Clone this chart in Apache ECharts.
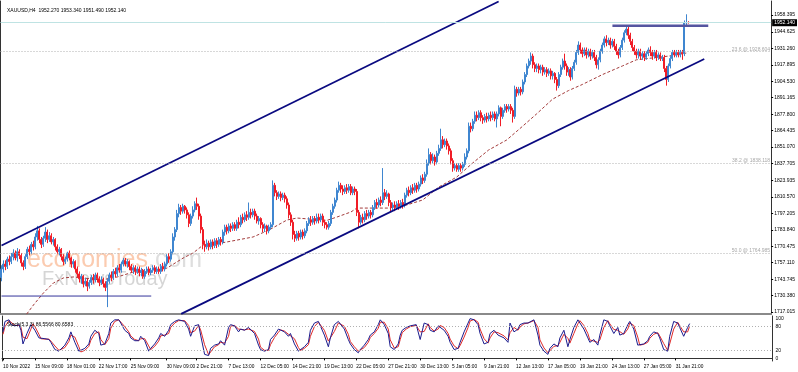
<!DOCTYPE html>
<html><head><meta charset="utf-8">
<script src="https://cdn.jsdelivr.net/npm/echarts@6/dist/echarts.min.js"></script>
<style>html,body{margin:0;padding:0;background:#fff}#c{width:798px;height:372px}</style>
</head><body><div id="c"></div>
<script>
const chartTitle = 'XAUUSD,H4  1952.270 1953.340 1951.490 1952.140';
const stochTitle = 'Stoch(5,3,3) 86.5566 80.6583';
const xTickLabels = ['10 Nov 2022','15 Nov 09:00','18 Nov 01:00','22 Nov 17:00','25 Nov 09:00','30 Nov 09:00','2 Dec 21:00','7 Dec 13:00','12 Dec 05:00','14 Dec 21:00','19 Dec 13:00','22 Dec 05:00','27 Dec 21:00','30 Dec 13:00','5 Jan 05:00','9 Jan 21:00','12 Jan 13:00','17 Jan 05:00','19 Jan 21:00','24 Jan 13:00','27 Jan 05:00','31 Jan 21:00'];
const priceTicks = [1958.395,1944.625,1931.260,1917.895,1904.530,1891.165,1877.800,1864.435,1851.070,1837.705,1823.935,1810.570,1797.205,1783.840,1770.475,1757.110,1743.745,1730.380,1717.015];
const stochTicks = [0,20,80,100];
const stochLevels = [80,20];
const fibLevels = [[1928.604,'23.6 @ 1928.604'],[1838.118,'38.2 @ 1838.118'],[1764.985,'50.0 @ 1764.985']];
const bidPrice = 1952.14;
const bidLabel = '1952.140';
const upperChannel = [[0,1771.1],[249,1969.4]];
const lowerChannel = [[90,1715.5],[352,1922.7]];
const resistanceLine = [[306,1949.7],[354,1949.7]];
const supportLine = [[0,1730.0],[75,1730.0]];
// [open, close, low, high]
const candles = [
[1745,1752,1742,1755],[1752,1756,1749,1759],[1756,1754,1751,1759],[1754,1760,1752,1762],[1760,1758,1755,1763],[1758,1762,1756,1765],[1762,1765,1759,1768],[1765,1761,1759,1767],
[1761,1766,1758,1769],[1766,1763,1760,1768],[1763,1757,1754,1765],[1757,1754,1751,1759],[1754,1762,1752,1764],[1762,1768,1760,1770],[1768,1766,1763,1771],[1766,1772,1764,1774],
[1772,1770,1767,1775],[1770,1778,1768,1781],[1778,1783,1775,1787],[1783,1776,1773,1785],[1776,1772,1769,1778],[1772,1777,1770,1779],[1777,1782,1774,1786],[1782,1776,1773,1784],
[1776,1779,1774,1782],[1779,1774,1772,1781],[1774,1776,1771,1778],[1776,1770,1767,1777],[1770,1766,1764,1772],[1766,1768,1763,1770],[1768,1762,1759,1769],[1762,1758,1755,1764],
[1758,1760,1756,1762],[1760,1765,1758,1766],[1765,1761,1759,1767],[1761,1756,1753,1762],[1756,1758,1753,1760],[1758,1752,1749,1759],[1752,1748,1745,1754],[1748,1744,1741,1750],
[1744,1746,1740,1748],[1746,1740,1737,1747],[1740,1742,1738,1745],[1742,1738,1734,1744],[1738,1741,1736,1743],[1741,1745,1739,1747],[1745,1743,1740,1748],[1743,1747,1741,1749],
[1747,1744,1741,1749],[1744,1741,1738,1746],[1741,1743,1739,1746],[1743,1740,1737,1745],[1740,1737,1734,1742],[1737,1742,1721,1744],[1742,1747,1740,1749],[1747,1745,1742,1750],
[1745,1750,1743,1752],[1750,1748,1745,1753],[1748,1753,1746,1755],[1753,1751,1749,1756],[1751,1756,1749,1758],[1756,1759,1754,1761],[1759,1756,1754,1761],[1756,1758,1753,1760],
[1758,1754,1751,1759],[1754,1751,1749,1756],[1751,1753,1748,1755],[1753,1750,1747,1755],[1750,1752,1748,1754],[1752,1749,1746,1754],[1749,1751,1746,1753],[1751,1746,1744,1752],
[1746,1750,1744,1752],[1750,1752,1748,1754],[1752,1749,1747,1754],[1749,1751,1747,1753],[1751,1753,1749,1755],[1753,1750,1748,1755],[1750,1752,1748,1754],[1752,1750,1748,1754],
[1750,1754,1748,1756],[1754,1752,1750,1757],[1752,1756,1750,1758],[1756,1762,1754,1764],[1762,1760,1757,1765],[1760,1766,1758,1768],[1766,1778,1764,1781],[1778,1784,1775,1786],
[1784,1797,1782,1800],[1797,1802,1794,1805],[1802,1799,1796,1804],[1799,1803,1797,1805],[1803,1800,1797,1804],[1800,1796,1793,1802],[1796,1789,1786,1798],[1789,1795,1787,1797],
[1795,1800,1793,1803],[1800,1805,1798,1807],[1805,1803,1800,1810],[1803,1795,1792,1805],[1795,1784,1781,1797],[1784,1772,1768,1786],[1772,1770,1766,1775],[1770,1773,1768,1776],
[1773,1770,1767,1775],[1770,1774,1768,1776],[1774,1771,1768,1776],[1771,1775,1769,1777],[1775,1772,1769,1777],[1772,1776,1770,1778],[1776,1774,1771,1778],[1774,1782,1772,1784],
[1782,1786,1779,1788],[1786,1783,1780,1788],[1783,1787,1781,1789],[1787,1785,1782,1789],[1785,1788,1783,1790],[1788,1785,1783,1790],[1785,1790,1783,1792],[1790,1788,1785,1794],
[1788,1794,1786,1796],[1794,1792,1789,1797],[1792,1796,1790,1798],[1796,1794,1791,1799],[1794,1798,1792,1806],[1798,1796,1793,1801],[1796,1799,1794,1801],[1799,1795,1792,1801],
[1795,1791,1789,1797],[1791,1793,1788,1795],[1793,1788,1785,1794],[1788,1785,1782,1790],[1785,1787,1782,1789],[1787,1783,1780,1788],[1783,1786,1781,1788],[1786,1788,1784,1790],
[1788,1820,1786,1824],[1820,1814,1811,1822],[1814,1811,1808,1816],[1811,1813,1809,1815],[1813,1810,1807,1815],[1810,1812,1808,1814],[1812,1809,1806,1814],[1809,1804,1801,1811],
[1804,1796,1793,1806],[1796,1790,1787,1798],[1790,1780,1776,1792],[1780,1777,1774,1783],[1777,1781,1775,1783],[1781,1778,1775,1783],[1778,1782,1776,1784],[1782,1779,1776,1784],
[1779,1783,1777,1785],[1783,1789,1781,1791],[1789,1792,1787,1794],[1792,1790,1787,1795],[1790,1793,1788,1795],[1793,1791,1788,1795],[1791,1794,1789,1797],[1794,1792,1789,1797],
[1792,1795,1790,1797],[1795,1790,1787,1797],[1790,1788,1785,1792],[1788,1786,1784,1790],[1786,1789,1784,1791],[1789,1798,1787,1800],[1798,1803,1796,1805],[1803,1808,1801,1810],
[1808,1816,1806,1818],[1816,1820,1814,1823],[1820,1817,1814,1822],[1817,1815,1812,1820],[1815,1818,1813,1820],[1818,1816,1813,1821],[1816,1819,1814,1821],[1819,1814,1812,1821],
[1814,1817,1812,1819],[1817,1815,1812,1819],[1815,1798,1795,1817],[1798,1790,1785,1800],[1790,1794,1788,1796],[1794,1792,1789,1797],[1792,1797,1790,1799],[1797,1795,1792,1800],
[1795,1798,1793,1800],[1798,1796,1793,1800],[1796,1802,1794,1804],[1802,1806,1800,1808],[1806,1804,1801,1809],[1804,1808,1802,1810],[1808,1806,1803,1811],[1806,1814,1804,1834],
[1814,1811,1808,1817],[1811,1813,1809,1816],[1813,1806,1803,1814],[1806,1802,1799,1808],[1802,1804,1800,1806],[1804,1802,1799,1807],[1802,1805,1800,1807],[1805,1803,1800,1808],
[1803,1806,1801,1808],[1806,1804,1801,1809],[1804,1812,1802,1814],[1812,1816,1810,1818],[1816,1814,1811,1819],[1814,1818,1812,1820],[1818,1816,1813,1821],[1816,1820,1814,1822],
[1820,1817,1814,1822],[1817,1821,1815,1823],[1821,1826,1819,1828],[1826,1824,1821,1829],[1824,1829,1822,1831],[1829,1838,1827,1841],[1838,1845,1836,1850],[1845,1840,1837,1847],
[1840,1843,1838,1846],[1843,1839,1836,1845],[1839,1846,1837,1848],[1846,1850,1844,1853],[1850,1857,1848,1866],[1857,1853,1850,1860],[1853,1856,1851,1858],[1856,1852,1849,1858],
[1852,1848,1845,1854],[1848,1840,1837,1850],[1840,1834,1831,1842],[1834,1836,1832,1838],[1836,1833,1831,1838],[1833,1836,1831,1838],[1836,1834,1831,1838],[1834,1837,1832,1839],
[1837,1843,1835,1846],[1843,1848,1841,1850],[1848,1868,1846,1871],[1868,1866,1863,1871],[1866,1872,1864,1874],[1872,1877,1870,1880],[1877,1875,1872,1880],[1875,1879,1873,1881],
[1879,1875,1872,1881],[1875,1873,1870,1877],[1873,1876,1871,1878],[1876,1874,1871,1879],[1874,1877,1872,1879],[1877,1875,1872,1880],[1875,1878,1873,1880],[1878,1874,1872,1880],
[1874,1878,1867,1880],[1878,1883,1876,1885],[1883,1876,1868,1884],[1876,1881,1874,1883],[1881,1884,1879,1886],[1884,1882,1879,1886],[1882,1884,1880,1886],[1884,1881,1878,1886],
[1881,1876,1871,1883],[1876,1898,1874,1901],[1898,1895,1892,1900],[1895,1898,1893,1900],[1898,1896,1893,1900],[1896,1904,1894,1906],[1904,1910,1902,1912],[1910,1917,1908,1919],
[1917,1921,1915,1923],[1921,1925,1918,1928],[1925,1918,1915,1927],[1918,1915,1912,1920],[1915,1917,1912,1919],[1917,1914,1911,1919],[1914,1916,1911,1918],[1916,1912,1909,1918],
[1912,1914,1910,1916],[1914,1911,1908,1916],[1911,1913,1909,1915],[1913,1909,1906,1915],[1909,1911,1906,1913],[1911,1906,1903,1912],[1906,1901,1897,1908],[1901,1910,1899,1912],
[1910,1916,1908,1918],[1916,1921,1914,1923],[1921,1917,1914,1927],[1917,1912,1909,1919],[1912,1914,1909,1916],[1914,1908,1905,1916],[1908,1915,1906,1917],[1915,1920,1913,1922],
[1920,1928,1918,1930],[1928,1934,1926,1937],[1934,1930,1927,1936],[1930,1927,1924,1932],[1927,1930,1925,1932],[1930,1926,1923,1932],[1926,1929,1924,1931],[1929,1925,1922,1931],
[1925,1928,1923,1930],[1928,1924,1921,1930],[1924,1918,1915,1926],[1918,1922,1914,1924],[1922,1929,1920,1931],[1929,1934,1927,1936],[1934,1939,1932,1941],[1939,1936,1933,1942],
[1936,1938,1934,1940],[1938,1934,1931,1940],[1934,1937,1932,1939],[1937,1933,1930,1939],[1933,1929,1926,1935],[1929,1926,1923,1931],[1926,1932,1924,1934],[1932,1938,1930,1940],
[1938,1944,1936,1946],[1944,1947,1942,1950],[1947,1942,1939,1949],[1942,1937,1934,1944],[1937,1932,1929,1939],[1932,1929,1926,1934],[1929,1926,1923,1931],[1926,1929,1923,1931],
[1929,1925,1922,1931],[1925,1927,1922,1929],[1927,1924,1921,1929],[1924,1927,1922,1929],[1927,1930,1925,1932],[1930,1928,1925,1933],[1928,1925,1922,1930],[1925,1928,1923,1930],
[1928,1924,1921,1930],[1924,1926,1922,1928],[1926,1923,1921,1928],[1923,1924,1921,1926],[1924,1915,1912,1926],[1915,1906,1901,1917],[1906,1917,1904,1919],[1917,1923,1915,1925],
[1923,1928,1921,1930],[1928,1926,1924,1930],[1926,1928,1924,1930],[1928,1926,1924,1930],[1926,1928,1924,1930],[1928,1927,1922,1930],[1927,1952,1925,1954],[1952,1952.3,1949,1959],
[1952.27,1952.14,1951.49,1953.34]
];
const maLine = [[0,1690],[8,1706],[12,1714],[16,1722.7],[21,1732.5],[26,1740.6],[31,1744.7],[36,1745.5],[41,1744.7],[50,1743],[58,1745.5],[66,1749.5],[75,1749.5],[83,1752.8],[91,1760.9],[96,1765],[101,1771.5],[110,1773.1],[118,1775.5],[126,1778],[134,1783.7],[143,1791.8],[148,1793.4],[155,1792.5],[163,1791.5],[168,1794.2],[175,1798.3],[178,1801.5],[186,1801.5],[194,1801.5],[203,1804],[211,1808.1],[219,1818.6],[228,1826.7],[236,1838.1],[244,1848.7],[253,1856.8],[261,1868],[268,1878],[276,1890],[284,1897],[291,1902],[301,1910],[311,1917],[318,1922],[326,1923.5],[334,1925],[343,1927.5]];
const stochMain = [[0,66],[1,92],[3,96],[4,84],[6,81],[8,84],[9,70],[10,36],[12,62],[14,84],[15,88],[16,70],[18,51],[19,47],[21,49],[23,47],[24,40],[26,22],[28,18],[29,22],[31,33],[33,51],[34,66],[36,40],[38,18],[39,14],[41,25],[43,36],[44,55],[46,70],[48,62],[49,33],[51,36],[53,62],[54,88],[56,96],[58,96],[59,88],[61,70],[63,62],[64,51],[66,44],[68,44],[69,55],[71,44],[73,18],[74,25],[76,36],[78,51],[79,62],[81,55],[83,70],[84,84],[86,92],[88,96],[89,96],[91,92],[93,73],[94,55],[96,81],[98,84],[99,58],[101,10],[103,7],[104,25],[106,33],[108,36],[109,44],[111,33],[113,77],[114,84],[116,81],[118,66],[119,73],[121,70],[123,77],[124,73],[126,62],[128,33],[129,22],[131,18],[133,22],[134,47],[136,58],[138,73],[139,70],[141,66],[143,55],[144,62],[146,36],[148,18],[149,22],[151,29],[153,40],[154,70],[156,88],[158,92],[159,81],[161,58],[163,29],[164,51],[166,84],[168,92],[169,88],[171,73],[173,47],[174,36],[176,22],[178,14],[179,22],[181,33],[183,47],[184,58],[186,66],[188,84],[189,96],[191,84],[193,62],[194,29],[196,22],[198,36],[199,58],[200,70],[202,77],[204,81],[207,84],[209,47],[211,88],[213,84],[214,70],[216,66],[218,81],[219,84],[221,70],[223,55],[224,40],[226,22],[228,25],[229,40],[231,66],[233,88],[234,99],[236,96],[238,84],[239,62],[241,36],[243,40],[244,62],[246,70],[248,58],[249,62],[251,51],[253,40],[254,88],[256,66],[258,73],[259,84],[261,88],[263,88],[264,92],[266,96],[268,58],[269,33],[271,18],[273,10],[274,25],[276,36],[278,29],[279,51],[281,70],[283,29],[284,47],[286,77],[288,96],[289,92],[291,73],[293,51],[294,40],[296,47],[298,33],[299,58],[301,96],[303,92],[304,81],[306,62],[308,77],[309,58],[311,62],[313,84],[314,92],[316,73],[318,33],[319,33],[321,36],[323,44],[324,55],[326,66],[328,62],[329,51],[331,22],[333,18],[334,55],[336,92],[338,88],[339,77],[341,55],[343,77],[344,86.56]];
const stochSignal = [[0,60],[1,79],[3,94],[4,90],[6,82],[8,82],[9,77],[10,53],[12,49],[14,73],[15,86],[16,79],[18,60],[19,49],[21,48],[23,48],[24,43],[26,31],[28,20],[29,20],[31,27],[33,42],[34,58],[36,53],[38,29],[39,16],[41,20],[43,30],[44,45],[46,62],[48,66],[49,47],[51,34],[53,49],[54,75],[56,92],[58,96],[59,92],[61,79],[63,66],[64,56],[66,47],[68,44],[69,49],[71,49],[73,31],[74,22],[76,30],[78,43],[79,56],[81,58],[83,62],[84,77],[86,88],[88,94],[89,96],[91,94],[93,82],[94,64],[96,68],[98,82],[99,71],[101,34],[103,9],[104,16],[106,29],[108,34],[109,40],[111,38],[113,55],[114,80],[116,82],[118,73],[119,70],[121,71],[123,73],[124,75],[126,67],[128,48],[129,28],[131,20],[133,20],[134,34],[136,52],[138,65],[139,71],[141,68],[143,60],[144,58],[146,49],[148,27],[149,20],[151,25],[153,34],[154,55],[156,79],[158,90],[159,86],[161,70],[163,43],[164,40],[166,67],[168,88],[169,90],[171,80],[173,60],[174,42],[176,29],[178,18],[179,18],[181,27],[183,40],[184,52],[186,62],[188,75],[189,90],[191,90],[193,73],[194,46],[196,26],[198,29],[199,47],[200,64],[202,73],[204,79],[207,82],[209,66],[211,67],[213,86],[214,77],[216,68],[218,73],[219,82],[221,77],[223,62],[224,48],[226,31],[228,24],[229,32],[231,53],[233,77],[234,93],[236,97],[238,90],[239,73],[241,49],[243,38],[244,51],[246,66],[248,64],[249,60],[251,56],[253,46],[254,64],[256,77],[258,70],[259,78],[261,86],[263,88],[264,90],[266,94],[268,77],[269,46],[271,26],[273,14],[274,18],[276,30],[278,32],[279,40],[281,60],[283,50],[284,38],[286,62],[288,86],[289,94],[291,82],[293,62],[294,46],[296,43],[298,40],[299,46],[301,77],[303,94],[304,86],[306,72],[308,70],[309,68],[311,60],[313,73],[314,88],[316,82],[318,53],[319,33],[321,35],[323,40],[324,50],[326,60],[328,64],[329,56],[331,37],[333,20],[334,36],[336,73],[338,90],[339,82],[341,66],[343,66],[344,80.66]];

// H4 bar times (Mon-Fri, no bars on 26 Dec and 2 Jan), plus empty future slots on the right
const MONTHS=['Jan','Feb','Mar','Apr','May','Jun','Jul','Aug','Sep','Oct','Nov','Dec'];
const closedDays=['2022-12-26','2023-01-02'];
const SLOTS=386;
const categories=[];
let t=Date.UTC(2022,10,10,17);
while(categories.length<SLOTS){
  const d=new Date(t);const wd=d.getUTCDay();const key=d.toISOString().slice(0,10);
  if(wd!==0&&wd!==6&&closedDays.indexOf(key)<0){
    categories.push(d.getUTCDate()+' '+MONTHS[d.getUTCMonth()]+' '+String(d.getUTCHours()).padStart(2,'0')+':00');
  }
  t+=4*3600*1000;
}
const isTick=(i,v)=> i===0 || xTickLabels.indexOf(v)>=0;
const FONT='"Liberation Sans", Arial, sans-serif';
const chart=echarts.init(document.getElementById('c'),null,{renderer:'canvas'});
chart.setOption({
  animation:false,
  backgroundColor:'#fff',
  textStyle:{fontFamily:FONT},
  title:[
    {text:chartTitle,left:2,top:3,textStyle:{fontSize:5,fontWeight:'normal',color:'#000',fontFamily:FONT}},
    {text:stochTitle,left:2,top:317,textStyle:{fontSize:5,fontWeight:'normal',color:'#000',fontFamily:FONT}}
  ],
  graphic:[
    {type:'text',z:1,style:{x:27,y:260,text:'economies',font:'25px '+FONT,fill:'rgba(246,140,80,0.45)',verticalAlign:'middle'}},
    {type:'text',z:1,style:{x:148,y:260,text:'.com',font:'25px '+FONT,fill:'rgba(160,160,160,0.35)',verticalAlign:'middle'}},
    {type:'text',z:1,style:{x:42,y:279,text:'FxNewsToday',font:'20px '+FONT,fill:'rgba(150,150,150,0.4)',verticalAlign:'middle'}}
  ],
  grid:[
    {left:0.5,top:1,width:772,height:313},
    {left:0.5,top:316,width:772,height:45}
  ],
  xAxis:[
    {type:'category',gridIndex:0,data:categories,boundaryGap:true,
     axisLine:{show:true,lineStyle:{color:'#8a8a8a',width:2}},axisTick:{show:false},axisLabel:{show:false},splitLine:{show:false}},
    {type:'category',gridIndex:1,data:categories,boundaryGap:true,
     axisLine:{show:true,lineStyle:{color:'#333',width:1}},
     axisTick:{show:true,interval:isTick,alignWithLabel:true,length:2,lineStyle:{color:'#000'}},
     axisLabel:{show:true,interval:isTick,align:'left',margin:3,fontSize:4.8,color:'#000',fontFamily:FONT,
       formatter:(v,i)=> i===0 ? xTickLabels[0] : v},
     splitLine:{show:false}}
  ],
  yAxis:[
    {type:'value',gridIndex:0,position:'right',min:1715.4,max:1969.8,
     axisLine:{show:true,lineStyle:{color:'#333'}},
     axisTick:{show:true,length:2,customValues:priceTicks,lineStyle:{color:'#000'}},
     axisLabel:{show:true,customValues:priceTicks,margin:3,fontSize:5,color:'#000',fontFamily:FONT,formatter:v=>v.toFixed(3)},
     splitLine:{show:false}},
    {type:'value',gridIndex:1,position:'right',min:-6.5,max:105.5,
     axisLine:{show:true,lineStyle:{color:'#333'}},
     axisTick:{show:false,customValues:stochTicks},
     axisLabel:{show:true,customValues:stochTicks,margin:3,fontSize:5,color:'#000',fontFamily:FONT},
     splitLine:{show:false}},
    {type:'value',gridIndex:0,position:'left',min:1715.4,max:1969.8,
     axisLine:{show:true,lineStyle:{color:'#333'}},axisTick:{show:false},axisLabel:{show:false},splitLine:{show:false}},
    {type:'value',gridIndex:1,position:'left',min:-6.5,max:105.5,
     axisLine:{show:true,lineStyle:{color:'#333'}},axisTick:{show:false},axisLabel:{show:false},splitLine:{show:false}}
  ],
  series:[
    {type:'candlestick',xAxisIndex:0,yAxisIndex:0,data:candles,barWidth:1.5,z:3,
     itemStyle:{color:'#3f86d0',color0:'#f01c26',borderColor:'#3f86d0',borderColor0:'#f01c26',borderWidth:1},
     markLine:{silent:true,symbol:['none','none'],animation:false,
       data:[
         {yAxis:bidPrice,lineStyle:{color:'#bfe3e3',type:'solid',width:1},
          label:{show:true,position:'end',distance:1,formatter:bidLabel,backgroundColor:'#000',color:'#fff',fontSize:5,padding:[1,2,1,2],fontFamily:FONT}},
         ...fibLevels.map(f=>({yAxis:f[0],lineStyle:{color:'#b0b0b0',type:[1,2],width:1},
          label:{show:true,position:'insideEndTop',distance:[1,0],formatter:f[1],color:'#a8a8a8',fontSize:5,fontFamily:FONT}}))
       ]}},
    {type:'line',xAxisIndex:0,yAxisIndex:0,data:maLine,symbol:'none',z:2,clip:true,
     lineStyle:{color:'#a33b3b',width:1,type:[3,2]}},
    {type:'line',xAxisIndex:0,yAxisIndex:0,data:upperChannel,symbol:'none',z:4,lineStyle:{color:'#0a0a80',width:1.8}},
    {type:'line',xAxisIndex:0,yAxisIndex:0,data:lowerChannel,symbol:'none',z:4,lineStyle:{color:'#0a0a80',width:1.8}},
    {type:'line',xAxisIndex:0,yAxisIndex:0,data:resistanceLine,symbol:'none',z:4,lineStyle:{color:'#5555a0',width:2.5}},
    {type:'line',xAxisIndex:0,yAxisIndex:0,data:supportLine,symbol:'none',z:4,lineStyle:{color:'#34349a',width:1}},
    {type:'line',xAxisIndex:1,yAxisIndex:1,data:stochSignal,symbol:'none',z:3,lineStyle:{color:'#e02a2a',width:1},
     markLine:{silent:true,symbol:['none','none'],label:{show:false},
       data:stochLevels.map(v=>({yAxis:v})),lineStyle:{color:'#b0b0b0',type:[1,2],width:1}}},
    {type:'line',xAxisIndex:1,yAxisIndex:1,data:stochMain,symbol:'none',z:4,lineStyle:{color:'#1c1c8e',width:1}}
  ]
});
</script></body></html>
